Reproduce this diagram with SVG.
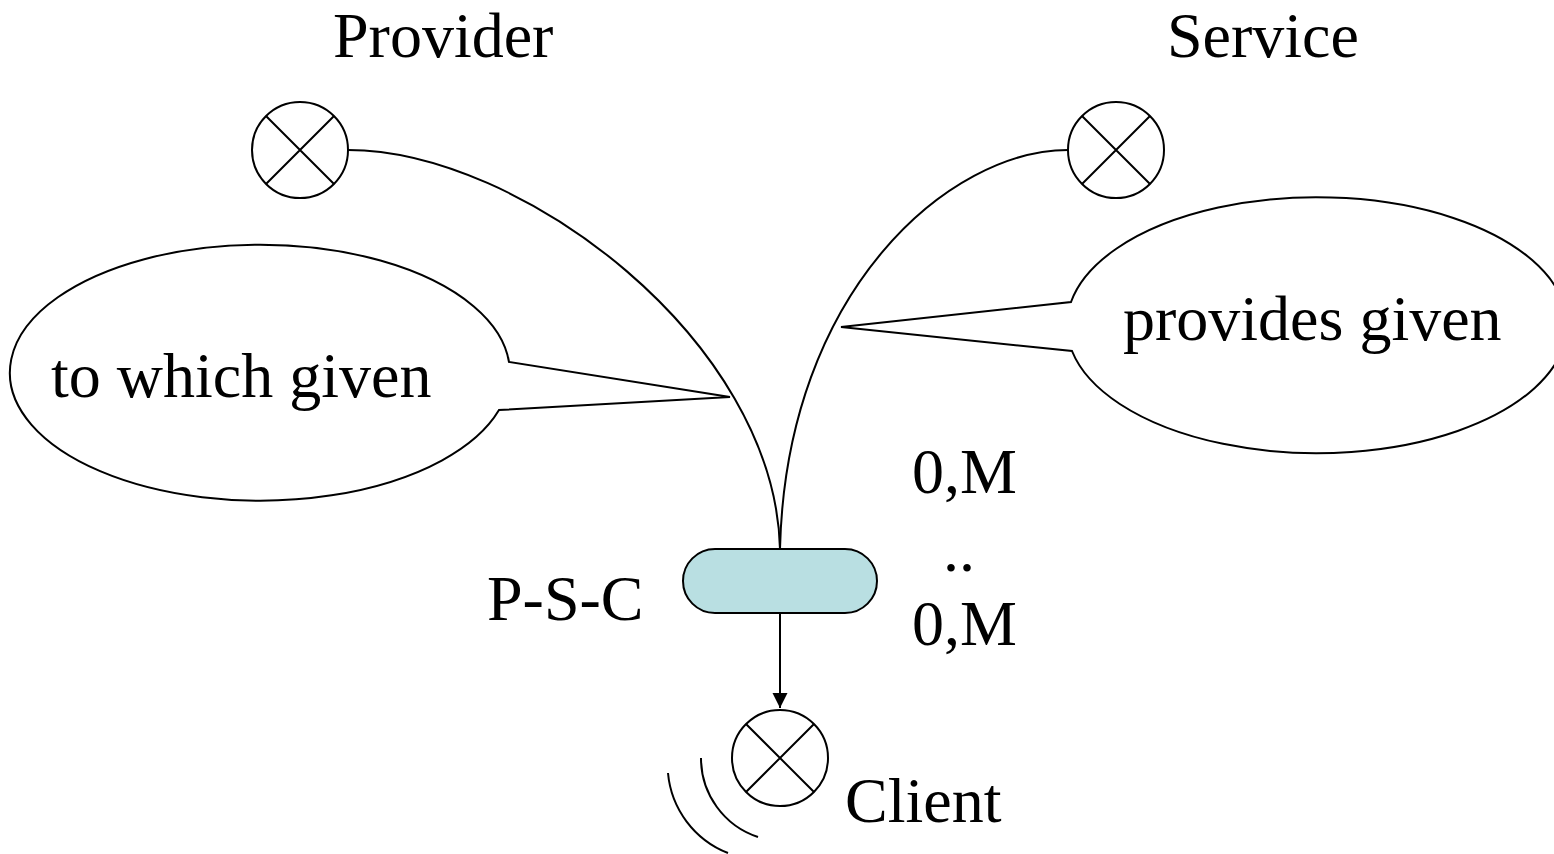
<svg xmlns="http://www.w3.org/2000/svg" width="1554" height="854" viewBox="0 0 1554 854">
<defs>
<style>
.ln{fill:none;stroke:#000;stroke-width:2}
.sh{fill:#fff;stroke:#000;stroke-width:2}
.t{font-family:"Liberation Serif","Times New Roman",serif;font-size:64px;fill:#000}
</style>
<marker id="ah" markerWidth="16" markerHeight="16" refX="15" refY="7.5" orient="auto" markerUnits="userSpaceOnUse">
<path d="M0,0 L15,7.5 L0,15 Z" fill="#000"/>
</marker>
</defs>
<rect width="1554" height="854" fill="#fff"/>
<g id="connectors">
<path class="ln" d="M348,150 C520,150 775,340 780,549"/>
<path class="ln" d="M1068,150 C950,150 786,290 780,549"/>
<path class="ln" d="M780,613 L780,708" marker-end="url(#ah)"/>
</g>
<g id="callout-left">
<path class="sh" d="M509,362 A250,128 0 1 0 499,410 L730,397 Z"/>
<text class="t" x="51" y="397">to which given</text>
</g>
<g id="callout-right">
<path class="sh" d="M1071,302 A250,128 0 1 1 1072,351 L841,327 Z"/>
<text class="t" x="1123" y="340">provides given</text>
</g>
<g id="provider">
<circle class="sh" cx="300" cy="150" r="48"/>
<path class="ln" d="M266,116 L334,184 M334,116 L266,184"/>
<text class="t" x="333" y="57">Provider</text>
</g>
<g id="service">
<circle class="sh" cx="1116" cy="150" r="48"/>
<path class="ln" d="M1082,116 L1150,184 M1150,116 L1082,184"/>
<text class="t" x="1167" y="57">Service</text>
</g>
<g id="psc">
<rect x="683" y="549" width="194" height="64" rx="32" ry="32" fill="#b9dfe2" stroke="#000" stroke-width="2"/>
<text class="t" x="487" y="620">P-S-C</text>
</g>
<g id="cardinality">
<text class="t" x="912" y="493">0,M</text>
<text class="t" x="943" y="571">..</text>
<text class="t" x="912" y="645">0,M</text>
</g>
<g id="client">
<circle class="sh" cx="780" cy="758" r="48"/>
<path class="ln" d="M746,724 L814,792 M814,724 L746,792"/>
<path class="ln" d="M701,758 A83,83 0 0 0 758,837"/>
<path class="ln" d="M668,773 A95,95 0 0 0 728,853"/>
<text class="t" x="845" y="822">Client</text>
</g>
</svg>
